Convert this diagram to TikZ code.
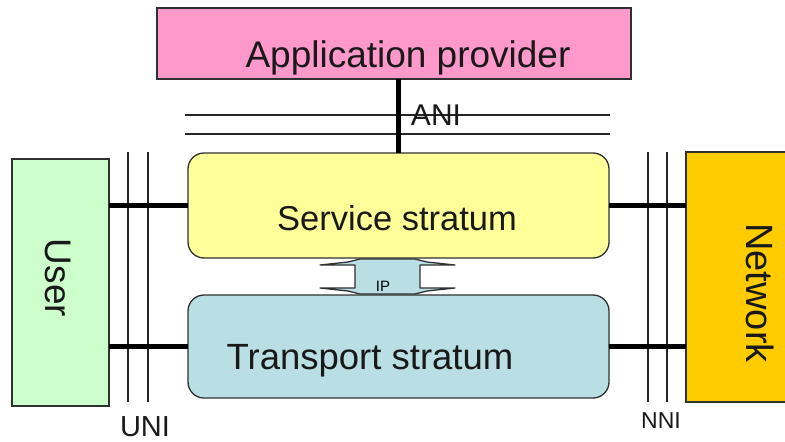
\documentclass[tikz,border=0pt]{standalone}
\usepackage{fontspec}
\setmainfont{Liberation Sans}
\definecolor{appPink}{HTML}{FF99CC}
\definecolor{svcYellow}{HTML}{FFFF99}
\definecolor{trBlue}{HTML}{B9DFE4}
\definecolor{userGreen}{HTML}{CCFFCC}
\definecolor{netOrange}{HTML}{FFCC00}
\definecolor{edge}{HTML}{303030}
\begin{document}
\begin{tikzpicture}[x=1pt,y=-1pt,
  box/.style={draw=edge, line width=1.3pt, inner sep=0pt, outer sep=0pt},
  stratum/.style={box, rounded corners=16pt, minimum width=421pt},
  label/.style={inner sep=0pt, anchor=base, text=black!90},
  thinline/.style={line width=1.8pt, draw=black!85},
  thickline/.style={line width=5pt, draw=black}]
\useasboundingbox (0,0) rectangle (785,442);

% boxes
\node[box, fill=appPink, minimum width=474pt, minimum height=71pt] (app) at (394,43.5) {};
\node[stratum, fill=svcYellow, minimum height=105pt] (svc) at (398.5,205.5) {};
\node[stratum, fill=trBlue, minimum height=103pt] (tr) at (398.5,346.5) {};
\node[box, fill=userGreen, minimum width=97pt, minimum height=247pt] (user) at (60.5,282.5) {};
\node[box, fill=netOrange, minimum width=104pt, minimum height=250pt] (net) at (738,277) {};

% box texts
\node[label, font=\fontsize{37}{40}\selectfont] (apptxt) at (408,67) {Application provider};
\node[label, font=\fontsize{34.5}{38}\selectfont] (svctxt) at (397,230) {Service stratum};
\node[label, font=\fontsize{36.5}{40}\selectfont] (trtxt) at (370,369) {Transport stratum};
\node[inner sep=0pt, rotate=-90, text=black!90, font=\fontsize{37}{40}\selectfont] (usertxt) at (58,278) {User};
\node[inner sep=0pt, rotate=-90, text=black!90, font=\fontsize{38}{40}\selectfont] (nettxt) at (760,293) {Network};

% ANI reference lines
\draw[thinline] (185,115) -- (610,115);
\draw[thinline] (185,134) -- (610,134);
% UNI reference lines
\draw[thinline] (128,152) -- (128,402);
\draw[thinline] (148,152) -- (148,402);
% NNI reference lines
\draw[thinline] (648,152) -- (648,402);
\draw[thinline] (667,152) -- (667,402);

% interface connectors
\draw[thickline] (svc.north |- app.south) -- (svc.north);
\draw[thickline] (svc.west -| user.east) -- (svc.west);
\draw[thickline] (tr.west -| user.east) -- (tr.west);
\draw[thickline] (svc.east) -- (svc.east -| net.west);
\draw[thickline] (tr.east) -- (tr.east -| net.west);

% IP double arrow between the strata
\draw[draw=edge, line width=1.3pt, fill=trBlue, line join=round]
  (320,265) -- (348,262) -- (360,259) -- (415,259) -- (427,262) -- (455,265)
  -- (420,265) -- (420,288) -- (455,288) -- (427,291) -- (415,294)
  -- (360,294) -- (348,291) -- (320,288) -- (355,288) -- (355,265) -- cycle;

% interface labels
\node[label, text=black, font=\fontsize{15}{17}\selectfont] (iptxt) at (383,291) {IP};
\node[label, font=\fontsize{30}{32}\selectfont] (anitxt) at (436,125) {ANI};
\node[label, font=\fontsize{29}{31}\selectfont] (unitxt) at (145,436) {UNI};
\node[label, font=\fontsize{23}{25}\selectfont] (nnitxt) at (661,428) {NNI};
\end{tikzpicture}
\end{document}
